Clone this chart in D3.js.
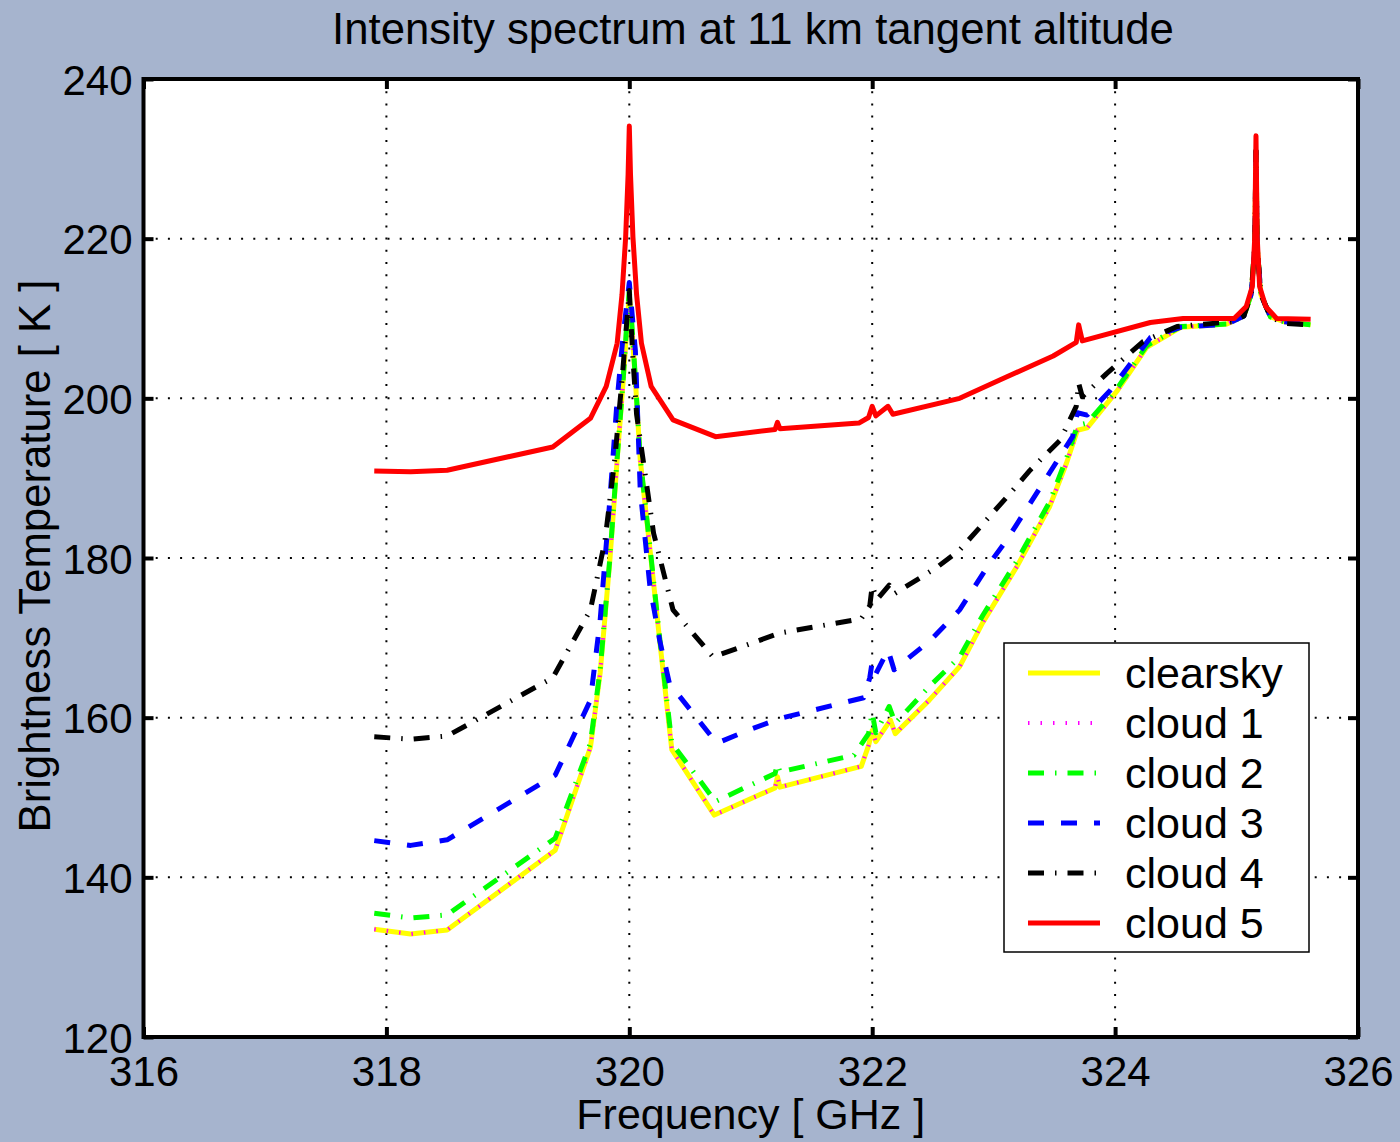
<!DOCTYPE html>
<html>
<head>
<meta charset="utf-8">
<script src="https://cdn.jsdelivr.net/npm/d3@7"></script>
<style>
  body { margin: 0; background: #a6b4ce; }
  svg text { font-family: "Liberation Sans", Arial, Helvetica, sans-serif; fill: #000; }
</style>
</head>
<body>
<div id="chart"></div>
<script>
// ---- data: [frequency GHz, brightness temperature K]
var clearsky = [[317.9,133.5],[318.2,132.9],[318.5,133.4],[319.39,143.4],[319.68,156.3],[319.76,165.6],[319.84,179.7],[319.9,192.3],[319.95,202.3],[319.98,209],[320.0,213],[320.02,209],[320.05,202.3],[320.09,192.3],[320.18,179.7],[320.25,169.7],[320.35,156.0],[320.7,147.8],[321.2,151.2],[321.22,152.6],[321.24,151.3],[321.91,153.9],[321.97,156.5],[322.0,158.4],[322.03,157.0],[322.15,159.7],[322.19,158.0],[322.47,162.2],[322.72,166.4],[322.91,171.9],[323.19,178.9],[323.46,186.4],[323.6,191.9],[323.69,196.0],[323.77,196.3],[324.02,201.0],[324.26,206.4],[324.54,208.9],[324.92,209.3],[325.06,210.3],[325.12,213],[325.15,219],[325.16,231],[325.17,219],[325.2,213],[325.28,210.2],[325.39,209.6],[325.61,209.2]];

var cloud1 = [[317.9,133.5],[318.2,132.9],[318.5,133.4],[319.39,143.4],[319.68,156.3],[319.76,165.6],[319.84,179.7],[319.9,192.3],[319.95,202.3],[319.98,209],[320.0,213],[320.02,209],[320.05,202.3],[320.09,192.3],[320.18,179.7],[320.25,169.7],[320.35,156.0],[320.7,147.8],[321.2,151.2],[321.22,152.6],[321.24,151.3],[321.91,153.9],[321.97,156.5],[322.0,158.4],[322.03,157.0],[322.15,159.7],[322.19,158.0],[322.47,162.2],[322.72,166.4],[322.91,171.9],[323.19,178.9],[323.46,186.4],[323.6,191.9],[323.69,196.0],[323.77,196.3],[324.02,201.0],[324.26,206.4],[324.54,208.9],[324.92,209.3],[325.06,210.3],[325.12,213],[325.15,219],[325.16,231],[325.17,219],[325.2,213],[325.28,210.2],[325.39,209.6],[325.61,209.2]];

var cloud2 = [[317.9,135.5],[318.2,134.9],[318.5,135.3],[319.39,144.9],[319.68,156.8],[319.76,166.0],[319.84,180.0],[319.9,192.5],[319.95,202.5],[319.98,209.5],[320.0,213.5],[320.02,209.5],[320.05,202.5],[320.09,192.5],[320.18,180.0],[320.25,170.0],[320.35,156.8],[320.71,149.5],[321.2,153.0],[321.22,154.2],[321.24,153.2],[321.85,155.3],[321.97,158.0],[322.0,160.6],[322.03,158.1],[322.14,161.4],[322.19,159.3],[322.47,163.9],[322.72,167.6],[322.91,172.8],[323.19,179.6],[323.46,187.0],[323.6,192.5],[323.69,196.6],[323.77,196.9],[324.02,201.3],[324.26,206.6],[324.54,209.0],[324.92,209.3],[325.06,210.3],[325.12,213],[325.15,219],[325.16,231],[325.17,219],[325.2,213],[325.28,210.2],[325.39,209.6],[325.61,209.2]];

var cloud3 = [[317.9,144.6],[318.2,144.0],[318.5,144.7],[319.39,152.8],[319.68,162.2],[319.76,172.2],[319.84,187.3],[319.9,199.8],[319.95,208.0],[320.0,214.5],[320.05,206.0],[320.09,188.5],[320.17,176.4],[320.25,169.7],[320.33,164.3],[320.72,156.8],[320.99,158.5],[321.24,159.9],[321.93,162.5],[321.98,165.0],[322.0,167.0],[322.03,165.5],[322.13,168.5],[322.18,166.0],[322.48,169.7],[322.72,173.5],[322.97,179.4],[323.11,182.3],[323.65,195.2],[323.69,198.2],[323.77,197.9],[323.96,201.0],[324.29,207.6],[324.54,208.9],[324.92,209.3],[325.06,210.3],[325.12,213],[325.15,219],[325.16,231],[325.17,219],[325.2,213],[325.28,210.2],[325.39,209.6],[325.61,209.2]];

var cloud4 = [[317.9,157.6],[318.2,157.3],[318.5,157.7],[319.37,165.0],[319.68,173.5],[319.8,182.2],[319.88,192.3],[319.94,202.3],[320.0,213.5],[320.03,205.0],[320.06,198.0],[320.2,183.1],[320.36,173.5],[320.69,167.6],[321.24,170.6],[321.91,172.4],[321.98,174.0],[322.0,176.5],[322.04,174.8],[322.14,176.6],[322.18,175.5],[322.53,178.8],[322.72,181.0],[323.13,188.0],[323.3,191.0],[323.55,194.8],[323.68,199.0],[323.7,201.9],[323.73,200.2],[323.93,203.1],[324.23,207.1],[324.51,209.0],[324.97,209.6],[325.06,210.3],[325.12,213],[325.15,219],[325.16,231],[325.17,219],[325.2,213],[325.28,210.2],[325.39,209.4],[325.61,209.2]];

var cloud5 = [[317.9,190.9],[318.2,190.8],[318.5,191.0],[319.37,193.9],[319.68,197.5],[319.81,201.5],[319.9,206.9],[319.94,213.0],[319.97,220.2],[319.99,228],[320.0,234.1],[320.01,228],[320.03,220.2],[320.06,213.0],[320.1,206.9],[320.18,201.5],[320.36,197.3],[320.71,195.2],[321.2,196.1],[321.22,197.0],[321.24,196.2],[321.89,196.9],[321.97,197.6],[322.0,199.0],[322.03,197.8],[322.13,199.0],[322.17,198.0],[322.72,200.0],[323.05,202.3],[323.49,205.3],[323.68,207.0],[323.7,209.2],[323.73,207.2],[324.29,209.5],[324.56,210.0],[324.98,210.0],[325.08,211.5],[325.13,214],[325.15,220.2],[325.16,232.9],[325.17,220.2],[325.19,214],[325.24,211.5],[325.33,210.0],[325.61,209.9]];

var seriesNames = ["clearsky", "cloud 1", "cloud 2", "cloud 3", "cloud 4", "cloud 5"];
var seriesData = [clearsky, cloud1, cloud2, cloud3, cloud4, cloud5];
var seriesColors = ["#ffff00", "#ff00ff", "#00ff00", "#0000ff", "#000000", "#ff0000"];
var seriesDash = [null, "1.5,11", "16,11,1.5,11", "16,17", "16,11,1.5,11", null];
var seriesWidth = [5, 4, 5, 5, 5, 5];

var xTicks = [316, 318, 320, 322, 324, 326],
    yTicks = [120, 140, 160, 180, 200, 220, 240];

var W = 1400, H = 1142,
    m = {t:79, r:42, b:105, l:143.5},
    w = W - m.l - m.r,
    h = H - m.t - m.b;

var svg = d3.select("#chart")
  .append("svg")
  .attr("width", W)
  .attr("height", H);

svg.append("rect").attr("width", W).attr("height", H).attr("fill", "#a6b4ce");

var x = d3.scaleLinear().domain([316, 326]).range([m.l, m.l + w]),
    y = d3.scaleLinear().domain([120, 240]).range([m.t + h, m.t]);

// plot background
svg.append("rect")
  .attr("x", m.l).attr("y", m.t)
  .attr("width", w).attr("height", h)
  .attr("fill", "#fff");

// dotted grid
var grid = svg.append("g").attr("class", "grid");
grid.selectAll(".gx")
  .data(xTicks.slice(1, -1))
  .enter().append("line")
    .attr("x1", function(d){ return x(d); })
    .attr("x2", function(d){ return x(d); })
    .attr("y1", m.t).attr("y2", m.t + h)
    .attr("stroke", "#000").attr("stroke-width", 2)
    .attr("stroke-dasharray", "2,10.2");
grid.selectAll(".gy")
  .data(yTicks.slice(1, -1))
  .enter().append("line")
    .attr("y1", function(d){ return y(d); })
    .attr("y2", function(d){ return y(d); })
    .attr("x1", m.l).attr("x2", m.l + w)
    .attr("stroke", "#000").attr("stroke-width", 2)
    .attr("stroke-dasharray", "2,10.2");

// series lines
var line = d3.line()
  .x(function(d){ return x(d[0]); })
  .y(function(d){ return y(d[1]); });

svg.append("g").attr("class", "series")
  .selectAll("path")
  .data(seriesData)
  .enter().append("path")
    .attr("d", line)
    .attr("fill", "none")
    .attr("stroke", function(d, i){ return seriesColors[i]; })
    .attr("stroke-width", function(d, i){ return seriesWidth[i]; })
    .attr("stroke-dasharray", function(d, i){ return seriesDash[i]; })
    .attr("stroke-linejoin", "round");

// axes: ticks inward on all four sides
var tickLen = 10;
var axB = svg.append("g").attr("transform", "translate(0," + (m.t + h) + ")")
  .call(d3.axisBottom(x).tickValues(xTicks).tickSizeInner(-tickLen).tickSizeOuter(0).tickPadding(19));
var axT = svg.append("g").attr("transform", "translate(0," + m.t + ")")
  .call(d3.axisTop(x).tickValues(xTicks).tickSizeInner(-tickLen).tickSizeOuter(0).tickFormat(""));
var axL = svg.append("g").attr("transform", "translate(" + m.l + ",0)")
  .call(d3.axisLeft(y).tickValues(yTicks).tickSizeInner(-tickLen).tickSizeOuter(0).tickPadding(11));
var axR = svg.append("g").attr("transform", "translate(" + (m.l + w) + ",0)")
  .call(d3.axisRight(y).tickValues(yTicks).tickSizeInner(-tickLen).tickSizeOuter(0).tickFormat(""));

[axB, axT, axL, axR].forEach(function(a){
  a.select(".domain").remove();
  a.selectAll(".tick line").attr("stroke", "#000").attr("stroke-width", 4);
  a.selectAll("text").style("font-size", "42px").attr("fill", "#000")
    .style("font-family", "'Liberation Sans', Arial, Helvetica, sans-serif");
});
axL.selectAll("text").attr("dy", "0.36em");

// box
svg.append("rect")
  .attr("x", m.l).attr("y", m.t)
  .attr("width", w).attr("height", h)
  .attr("fill", "none")
  .attr("stroke", "#000").attr("stroke-width", 4);

// titles
svg.append("text")
  .attr("x", 753).attr("y", 44)
  .attr("text-anchor", "middle")
  .style("font-size", "43.7px")
  .text("Intensity spectrum at 11 km tangent altitude");

svg.append("text")
  .attr("x", m.l + w / 2).attr("y", 1129)
  .attr("text-anchor", "middle")
  .style("font-size", "43px")
  .text("Frequency [ GHz ]");

svg.append("text")
  .attr("transform", "translate(50,556) rotate(-90)")
  .attr("text-anchor", "middle")
  .style("font-size", "43.7px")
  .text("Brightness Temperature [ K ]");

// legend
var lg = svg.append("g").attr("transform", "translate(1004,643)");
lg.append("rect")
  .attr("width", 305).attr("height", 309)
  .attr("fill", "#fff")
  .attr("stroke", "#000").attr("stroke-width", 1.5);

var items = lg.selectAll(".item")
  .data(seriesNames)
  .enter().append("g")
    .attr("transform", function(d, i){ return "translate(0," + (30 + i * 50) + ")"; });

items.append("line")
  .attr("x1", 24).attr("x2", 96)
  .attr("stroke", function(d, i){ return seriesColors[i]; })
  .attr("stroke-width", function(d, i){ return seriesWidth[i]; })
  .attr("stroke-dasharray", function(d, i){ return seriesDash[i]; });

items.append("text")
  .attr("x", 121).attr("dy", "0.36em")
  .style("font-size", "43px")
  .text(function(d){ return d; });
</script>
</body>
</html>
